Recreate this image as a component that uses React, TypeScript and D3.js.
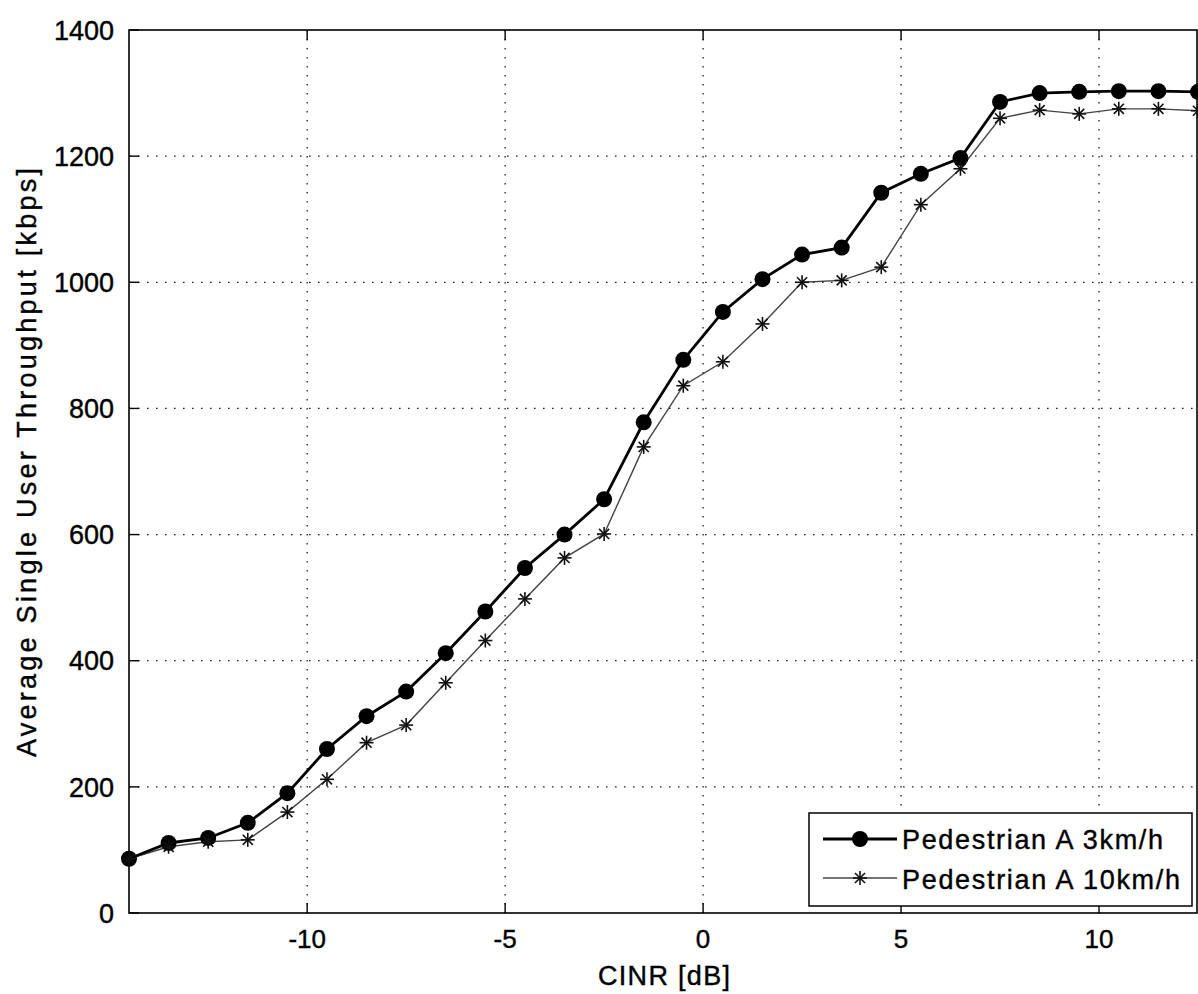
import React from "react";
import * as d3 from "d3";

// CINR points (dB)
const cinr = [
  -14.5, -13.5, -12.5, -11.5, -10.5, -9.5, -8.5, -7.5, -6.5, -5.5, -4.5, -3.5, -2.5, -1.5,
  -0.5, 0.5, 1.5, 2.5, 3.5, 4.5, 5.5, 6.5, 7.5, 8.5, 9.5, 10.5, 11.5, 12.5,
];
// Pedestrian A 3km/h
const ped3 = [
  86, 111, 119, 143, 190, 260, 312, 351, 412, 478, 547, 600, 656, 778, 877, 953, 1005, 1044,
  1055, 1142, 1172, 1197, 1286, 1300, 1302, 1303, 1303, 1302,
];
// Pedestrian A 10km/h
const ped10 = [
  86, 105, 113, 116, 160, 212, 270, 298, 365, 432, 498, 563, 601, 739, 836, 874, 934, 1000,
  1003, 1024, 1123, 1180, 1260, 1273, 1267, 1275, 1275, 1272,
];
const xTicks = [-10, -5, 0, 5, 10];
const yTicks = [0, 200, 400, 600, 800, 1000, 1200, 1400];
const legendLabels = ["Pedestrian A 3km/h", "Pedestrian A 10km/h"];

const W = 1198;
const H = 994;
const left = 129;
const right = 1198;
const top = 30;
const bottom = 913;
const font = "'Liberation Sans', Arial, sans-serif";

const Star = ({ x, y, r }: { x: number; y: number; r: number }) => {
  const d = r * 0.72;
  return (
    <g stroke="#111" strokeWidth={1.6}>
      <line x1={x - r} y1={y} x2={x + r} y2={y} />
      <line x1={x} y1={y - r} x2={x} y2={y + r} />
      <line x1={x - d} y1={y - d} x2={x + d} y2={y + d} />
      <line x1={x - d} y1={y + d} x2={x + d} y2={y - d} />
    </g>
  );
};

const App = () => {
  const x = d3.scaleLinear().domain([-14.5, 12.5]).range([left, right]);
  const y = d3.scaleLinear().domain([0, 1400]).range([bottom, top]);

  const line = d3
    .line<number>()
    .x((d, i) => x(cinr[i]))
    .y((d) => y(d));

  const grid = "1.6 7.4";

  return (
    <svg
      width={W}
      height={H}
      style={{ position: "absolute", left: 0, top: 0, background: "#fff" }}
      fontFamily={font}
    >
      <rect width={W} height={H} fill="#fff" />
      {/* grid */}
      {xTicks.map((t) => (
        <line
          key={"gx" + t}
          x1={x(t)}
          x2={x(t)}
          y1={top}
          y2={bottom}
          stroke="#222"
          strokeWidth={1.3}
          strokeDasharray={grid}
        />
      ))}
      {yTicks.slice(1, -1).map((t) => (
        <line
          key={"gy" + t}
          x1={left}
          x2={right}
          y1={y(t)}
          y2={y(t)}
          stroke="#222"
          strokeWidth={1.3}
          strokeDasharray={grid}
        />
      ))}
      {/* frame */}
      <rect
        x={left}
        y={top}
        width={right - left - 1}
        height={bottom - top}
        fill="none"
        stroke="#000"
        strokeWidth={1.6}
      />
      {/* ticks */}
      {xTicks.map((t) => (
        <g key={"tx" + t}>
          <line x1={x(t)} x2={x(t)} y1={bottom} y2={bottom - 10} stroke="#000" strokeWidth={1.4} />
          <line x1={x(t)} x2={x(t)} y1={top} y2={top + 10} stroke="#000" strokeWidth={1.4} />
          <text
            x={x(t)}
            y={948}
            textAnchor="middle"
            fontSize={26}
            fill="#000"
            stroke="#000"
            strokeWidth={0.4}
          >
            {t}
          </text>
        </g>
      ))}
      {yTicks.map((t) => (
        <g key={"ty" + t}>
          <line x1={left} x2={left + 10} y1={y(t)} y2={y(t)} stroke="#000" strokeWidth={1.4} />
          <text
            x={left - 15}
            y={y(t)}
            dy="0.36em"
            textAnchor="end"
            fontSize={27}
            fill="#000"
            stroke="#000"
            strokeWidth={0.4}
          >
            {t}
          </text>
        </g>
      ))}
      {/* axis labels */}
      <text
        x={598}
        y={985}
        fontSize={27}
        textLength={132}
        lengthAdjust="spacing"
        fill="#000"
        stroke="#000"
        strokeWidth={0.4}
      >
        CINR [dB]
      </text>
      <text
        transform="translate(36,757) rotate(-90)"
        x={0}
        y={0}
        fontSize={27}
        textLength={589}
        lengthAdjust="spacing"
        fill="#000"
        stroke="#000"
        strokeWidth={0.4}
      >
        Average Single User Throughput [kbps]
      </text>

      {/* series */}
      <path d={line(ped10) || ""} fill="none" stroke="#444" strokeWidth={1.4} />
      <path d={line(ped3) || ""} fill="none" stroke="#000" strokeWidth={2.8} />
      {ped3.map((v, i) => (
        <circle key={"c" + i} cx={x(cinr[i])} cy={y(v)} r={8} fill="#000" />
      ))}
      {ped10.map((v, i) => (
        <Star key={"s" + i} x={x(cinr[i])} y={y(v)} r={7} />
      ))}

      {/* legend */}
      <rect x={809} y={813} width={383} height={93} fill="#fff" stroke="#000" strokeWidth={1.5} />
      <line x1={823} x2={897} y1={839} y2={839} stroke="#000" strokeWidth={2.8} />
      <circle cx={860} cy={839} r={8} fill="#000" />
      <line x1={823} x2={897} y1={878} y2={878} stroke="#444" strokeWidth={1.4} />
      <Star x={860} y={878} r={7} />
      <text
        x={902}
        y={849}
        fontSize={27}
        textLength={261}
        lengthAdjust="spacing"
        fill="#000"
        stroke="#000"
        strokeWidth={0.4}
      >
        {legendLabels[0]}
      </text>
      <text
        x={902}
        y={889}
        fontSize={27}
        textLength={278}
        lengthAdjust="spacing"
        fill="#000"
        stroke="#000"
        strokeWidth={0.4}
      >
        {legendLabels[1]}
      </text>
    </svg>
  );
};

export default App;
